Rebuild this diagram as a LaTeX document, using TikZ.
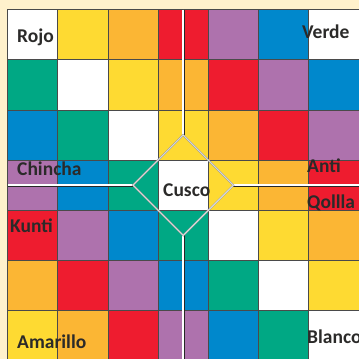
\documentclass[tikz,border=0pt]{standalone}
\usepackage{fontspec}
\setmainfont{Carlito}
\definecolor{bgc}{HTML}{FFF1CC}
\definecolor{cy}{HTML}{FEDA32}
\definecolor{co}{HTML}{FBB634}
\definecolor{cr}{HTML}{EE1C2F}
\definecolor{cp}{HTML}{AE72AD}
\definecolor{cb}{HTML}{0088CC}
\definecolor{cg}{HTML}{00A884}
\definecolor{txt}{HTML}{2B2A29}
\definecolor{gridc}{HTML}{4A4A4A}
\colorlet{w0}{cy}\colorlet{w1}{co}\colorlet{w2}{cr}\colorlet{w3}{cp}
\colorlet{w4}{cb}\colorlet{w5}{cg}\colorlet{w6}{white}\colorlet{w7}{cy}
\colorlet{w8}{co}\colorlet{w9}{cr}\colorlet{w10}{cp}\colorlet{w11}{cb}
\colorlet{w12}{white}
\tikzset{
  cellbox/.style={draw=gridc, line width=0.8pt},
  spoke/.style={draw=black!85, line width=0.6pt, double=white, double distance=1.6pt},
  diamondline/.style={draw=gray!75, line width=0.6pt, double=white!85!gray, double distance=0.6pt},
  lbl/.style={anchor=base west, inner sep=0pt, text=txt, font=\bfseries\fontsize{19.5}{20}\selectfont}
}
\begin{document}
\begin{tikzpicture}[x=1pt,y=-1pt]
\useasboundingbox (0,0) rectangle (359,359);
\clip (0,0) rectangle (359,359);
\fill[bgc] (0,0) rectangle (359,359);
\def\cs{50.2}
\foreach \r in {0,...,6} {
  \foreach \c in {0,...,6} {
    \pgfmathtruncatemacro\d{\c-\r+6}
    \path[cellbox, fill=w\d] ({\c*\cs+7.5},{\r*\cs+9.5}) rectangle ++(\cs,\cs);
  }
}
% centre and diamond vertices
\coordinate (C) at (183.2,185.2);
\coordinate (T) at (183.2,135.0);
\coordinate (B) at (183.2,235.4);
\coordinate (L) at (133.0,185.2);
\coordinate (R) at (233.4,185.2);
\coordinate (Te) at (183.2,9.5);
\coordinate (Be) at (183.2,362);
\coordinate (Le) at (7.5,185.2);
\coordinate (Re) at (362,185.2);
\draw[spoke] (Te) -- (T);
\draw[spoke] (B) -- (Be);
\draw[spoke] (Le) -- (L);
\draw[spoke] (R) -- (Re);
\draw[diamondline] (T) -- (R) -- (B) -- (L) -- cycle;
% labels
\node[lbl] (rojo) at (17,42) {Rojo};
\node[lbl] (verde) at (302,38.5) {Verde};
\node[lbl] (chincha) at (17,175) {Chincha};
\node[lbl] (anti) at (307,172.5) {Anti};
\node[lbl] (qollla) at (307,208.5) {Qollla};
\node[lbl] (kunti) at (10,232.5) {Kunti};
\node[lbl] (amarillo) at (17,348.5) {Amarillo};
\node[lbl] (blanco) at (307,343) {Blanco};
\node[lbl] (cusco) at (163,196) {Cusco};
\end{tikzpicture}
\end{document}
